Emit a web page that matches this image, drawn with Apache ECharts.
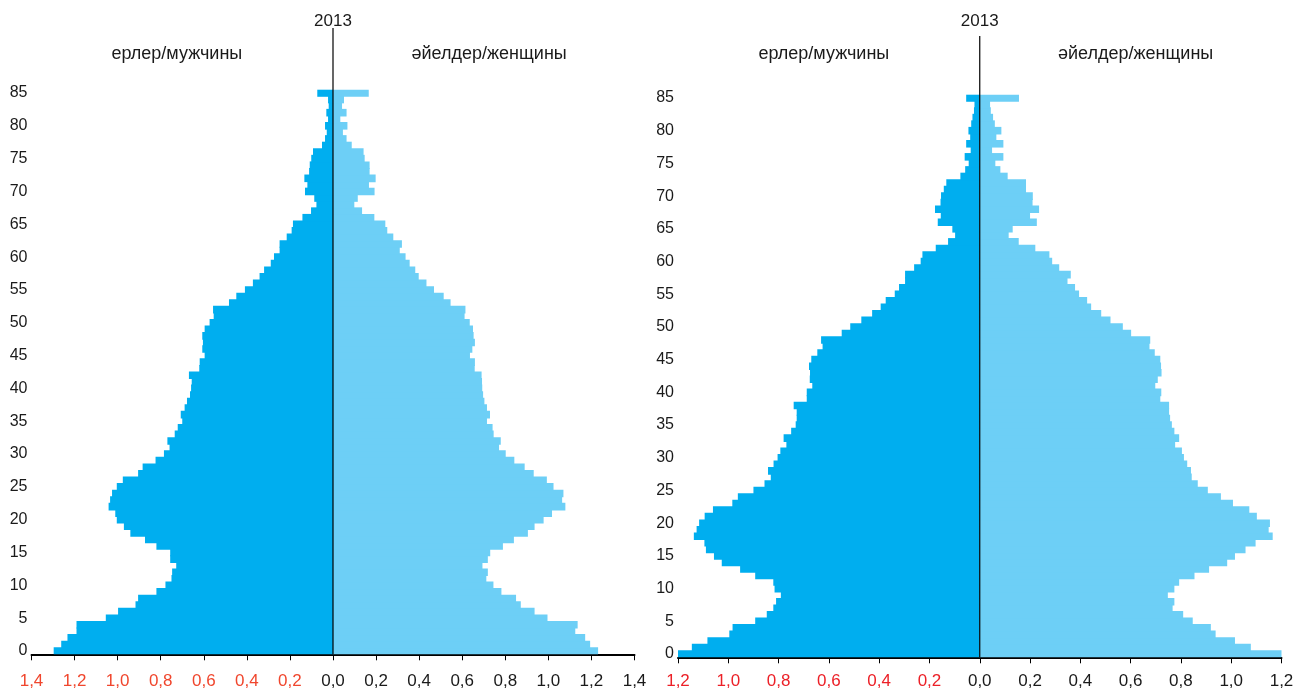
<!DOCTYPE html>
<html><head><meta charset="utf-8">
<script src="https://cdn.jsdelivr.net/npm/echarts@6/dist/echarts.min.js"></script>
<style>html,body{margin:0;padding:0;background:#fff}#c{width:1298px;height:691px}</style>
</head><body><div id="c"></div>
<script>
// Ages 0..85 (category labels)
const ages = Array.from({length: 86}, (_, i) => String(i));

// Left pyramid (2013) — percent of population, ages 0..85
const leftMale = [1.297,1.262,1.233,1.191,1.191,1.055,0.998,0.917,0.905,0.820,
  0.778,0.750,0.747,0.728,0.756,0.756,0.820,0.873,0.941,0.971,
  1.004,1.011,1.042,1.035,1.026,1.004,0.976,0.905,0.884,0.824,
  0.785,0.759,0.769,0.735,0.721,0.700,0.707,0.689,0.678,0.664,
  0.659,0.656,0.669,0.621,0.619,0.596,0.607,0.604,0.607,0.596,
  0.573,0.554,0.557,0.483,0.449,0.409,0.372,0.341,0.320,0.289,
  0.274,0.248,0.248,0.215,0.192,0.186,0.142,0.102,0.077,0.087,
  0.130,0.119,0.133,0.111,0.108,0.101,0.093,0.051,0.037,0.029,
  0.037,0.023,0.031,0.020,0.023,0.073];
const leftFemale = [1.231,1.194,1.171,1.125,1.136,0.996,0.936,0.872,0.850,0.782,
  0.745,0.712,0.719,0.694,0.719,0.730,0.789,0.840,0.905,0.936,
  0.978,1.017,1.079,1.064,1.070,1.024,0.993,0.932,0.890,0.842,
  0.802,0.771,0.779,0.746,0.741,0.715,0.729,0.715,0.703,0.697,
  0.693,0.692,0.690,0.658,0.659,0.636,0.647,0.659,0.653,0.650,
  0.635,0.611,0.615,0.546,0.514,0.469,0.434,0.398,0.382,0.356,
  0.337,0.310,0.320,0.280,0.252,0.243,0.192,0.135,0.099,0.115,
  0.193,0.167,0.198,0.170,0.170,0.147,0.142,0.087,0.063,0.046,
  0.067,0.034,0.063,0.042,0.051,0.166];

// Right pyramid (2013)
const rightMale = [1.202,1.145,1.083,0.996,0.983,0.893,0.847,0.821,0.810,0.791,
  0.816,0.821,0.893,0.953,1.026,1.057,1.089,1.095,1.137,1.126,
  1.116,1.094,1.061,0.984,0.962,0.900,0.856,0.831,0.842,0.820,
  0.804,0.793,0.769,0.780,0.750,0.732,0.728,0.728,0.740,0.688,
  0.688,0.666,0.676,0.675,0.679,0.670,0.646,0.625,0.631,0.549,
  0.515,0.471,0.428,0.394,0.374,0.338,0.321,0.297,0.297,0.261,
  0.235,0.228,0.175,0.126,0.098,0.109,0.167,0.155,0.178,0.156,
  0.154,0.143,0.133,0.077,0.058,0.044,0.060,0.036,0.054,0.038,
  0.045,0.034,0.029,0.023,0.021,0.054];
const rightFemale = [1.205,1.078,1.015,0.938,0.919,0.847,0.809,0.767,0.774,0.748,
  0.774,0.793,0.854,0.912,0.984,1.015,1.057,1.097,1.165,1.149,
  1.154,1.102,1.072,1.007,0.959,0.907,0.867,0.843,0.840,0.825,
  0.812,0.804,0.777,0.793,0.774,0.764,0.757,0.753,0.753,0.718,
  0.722,0.698,0.708,0.723,0.721,0.718,0.696,0.675,0.678,0.602,
  0.569,0.520,0.483,0.443,0.427,0.395,0.379,0.349,0.362,0.316,
  0.288,0.277,0.221,0.155,0.115,0.131,0.227,0.200,0.236,0.210,
  0.211,0.184,0.184,0.111,0.082,0.062,0.094,0.049,0.094,0.066,
  0.086,0.060,0.053,0.044,0.041,0.156];

const yearLabel = '2013';
const maleLabel = 'ерлер/мужчины';
const femaleLabel = 'әйелдер/женщины';

const FONT = "'Liberation Sans', Arial, sans-serif";
const MALE_C = '#00aeef', FEMALE_C = '#6dcff6';
const TXT = '#1a1a1a';

function xAxisCfg(idx, lim, red, margin) {
  return {
    type: 'value', gridIndex: idx, min: -lim, max: lim, interval: 0.2,
    axisLine: {show: true, onZero: false, lineStyle: {color: '#000', width: 2}},
    axisTick: {show: true, length: 6, lineStyle: {color: '#000', width: 1}},
    splitLine: {show: false},
    axisLabel: {
      fontFamily: FONT, fontSize: 17, color: TXT, margin: margin,
      formatter: v => {
        const s = Math.abs(v).toFixed(1).replace('.', ',');
        return v < -1e-9 ? '{r|' + s + '}' : s;
      },
      rich: {r: {color: red, fontFamily: FONT, fontSize: 17}}
    }
  };
}
function yAxisCfg(idx) {
  return {
    type: 'category', gridIndex: idx, data: ages, boundaryGap: true,
    axisLine: {show: false}, axisTick: {show: false}, splitLine: {show: false},
    axisLabel: {fontFamily: FONT, fontSize: 16, color: TXT, margin: 4, interval: 4,
      padding: [3, 0, 0, 0]}
  };
}
function barSeries(xi, data, color, gap) {
  const s = {
    type: 'bar', xAxisIndex: xi, yAxisIndex: xi, data: data,
    barWidth: '116%',
    itemStyle: {color: color},
    silent: true, animation: false
  };
  if (gap) s.barGap = '-100%';
  return s;
}

const chart = echarts.init(document.getElementById('c'), null, {renderer: 'canvas'});
chart.setOption({
  animation: false,
  backgroundColor: '#fff',
  grid: [
    {left: 31.5, right: 663.5, top: 89.7, bottom: 36.7, outerBoundsMode: 'none', containLabel: false},
    {left: 678, right: 16.5, top: 94.7, bottom: 33.7, outerBoundsMode: 'none', containLabel: false}
  ],
  xAxis: [xAxisCfg(0, 1.4, '#f0462d', 19), xAxisCfg(1, 1.2, '#ec2027', 16)],
  yAxis: [yAxisCfg(0), yAxisCfg(1)],
  series: [
    barSeries(0, leftMale.map(v => -v), MALE_C, false),
    barSeries(0, leftFemale, FEMALE_C, true),
    barSeries(1, rightMale.map(v => -v), MALE_C, false),
    barSeries(1, rightFemale, FEMALE_C, true)
  ]
});

function overlay(i, lineTop, lblOff) {
  const x0 = chart.convertToPixel({xAxisIndex: i}, 0);
  const xm = chart.convertToPixel({xAxisIndex: i}, -lblOff);
  const xf = chart.convertToPixel({xAxisIndex: i}, lblOff);
  const yb = chart.convertToPixel({yAxisIndex: i}, '0') + 3.3;
  return [
    {type: 'line', z: 100, shape: {x1: x0, y1: lineTop, x2: x0, y2: yb},
     style: {stroke: '#000', lineWidth: 1.2}},
    {type: 'text', z: 100, style: {text: yearLabel, x: x0, y: 21, align: 'center', verticalAlign: 'middle',
      font: '17px ' + FONT, fill: TXT}},
    {type: 'text', z: 100, style: {text: maleLabel, x: xm, y: 54, align: 'center', verticalAlign: 'middle',
      font: '18px ' + FONT, fill: TXT}},
    {type: 'text', z: 100, style: {text: femaleLabel, x: xf, y: 54, align: 'center', verticalAlign: 'middle',
      font: '18px ' + FONT, fill: TXT}}
  ];
}
chart.setOption({graphic: {elements: overlay(0, 28, 0.725).concat(overlay(1, 36, 0.62))}});
</script>
</body></html>
